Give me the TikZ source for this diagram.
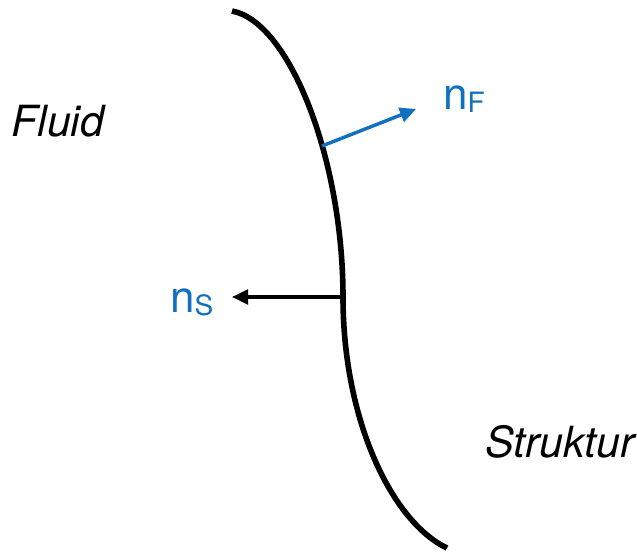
\documentclass[tikz,border=0pt]{standalone}
\usepackage{fontspec}
\setmainfont{TeX Gyre Heros}
\usetikzlibrary{arrows.meta}
\definecolor{nblue}{RGB}{17,112,192}
\tikzset{
  iface/.style={line width=4.2pt, line cap=butt},
  vec/.style={line width=2.6pt, -{Triangle[length=12pt,width=11pt]}},
  lbl/.style={inner sep=0pt, anchor=base west, font=\fontsize{33}{33}\selectfont},
  itlbl/.style={inner sep=0pt, anchor=base west, font=\fontsize{32.2}{32.2}\selectfont\itshape}
}
\begin{document}
\begin{tikzpicture}[x=0.75pt,y=-0.75pt]
\useasboundingbox (0,0) rectangle (637,552);
\coordinate (top) at (232,11);
\coordinate (mid) at (343,297);
\coordinate (bot) at (447,548);
\coordinate (fbase) at (322,146);
\coordinate (ftip) at (416,109);
\coordinate (stip) at (232,297);
\draw[iface] (top) .. controls (290,22) and (343,160) .. (mid)
  .. controls (343,420) and (392,522) .. (bot);
\draw[vec, nblue] (fbase) -- (ftip);
\draw[vec, black, line width=2.4pt] (mid) -- (stip);
\node[lbl, text=nblue] (nF) at (443,110) {n\raisebox{-2pt}{\fontsize{21}{21}\selectfont F}};
\node[lbl, text=nblue] (nS) at (170,313) {n\raisebox{-2pt}{\fontsize{21}{21}\selectfont S}};
\node[itlbl] (fluid) at (11,137) {Fluid};
\node[itlbl] (struktur) at (485,458) {Struktur};
\end{tikzpicture}
\end{document}
